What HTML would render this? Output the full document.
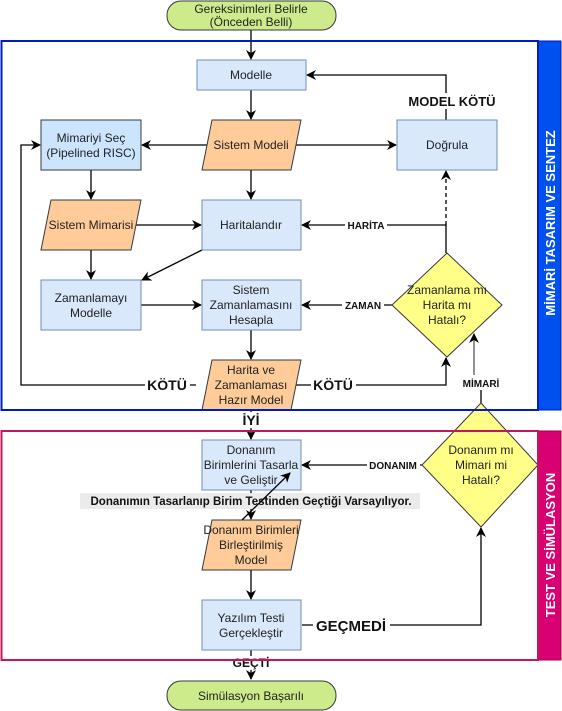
<!DOCTYPE html>
<html><head><meta charset="utf-8"><style>
html,body{margin:0;padding:0;background:#fff;}
svg{display:block;font-family:"Liberation Sans",Arial,sans-serif;}
.n{font-size:12px;fill:#222;text-anchor:middle;}
.b{font-weight:bold;fill:#111;text-anchor:middle;}
</style></head><body>
<svg width="562" height="711" viewBox="0 0 562 711" xmlns="http://www.w3.org/2000/svg">
<defs>
<marker id="a" markerWidth="10" markerHeight="10" refX="9" refY="5" orient="auto" markerUnits="userSpaceOnUse"><path d="M0,0 L10,5 L0,10 L3,5 z" fill="#000"/></marker>
<marker id="g" markerWidth="10" markerHeight="10" refX="9" refY="5" orient="auto" markerUnits="userSpaceOnUse"><path d="M0,0 L10,5 L0,10 L3,5 z" fill="#000"/></marker>
</defs>
<rect x="538" y="41" width="23" height="369" fill="#0050ef" stroke="#001dbc"/>
<rect x="538" y="431" width="23" height="229" fill="#d80073" stroke="#a50040"/>
<text transform="translate(555,223) rotate(-90)" font-size="13" font-weight="bold" fill="#fff" text-anchor="middle">MİMARİ TASARIM VE SENTEZ</text>
<text transform="translate(555,545) rotate(-90)" font-size="13" font-weight="bold" fill="#fff" text-anchor="middle">TEST VE SİMÜLASYON</text>

<g stroke="#000" stroke-width="1.3" fill="none">
<line x1="251" y1="30" x2="251" y2="59" marker-end="url(#a)"/>
<line x1="251" y1="90" x2="251" y2="119" marker-end="url(#a)"/>
<polyline points="446,120 446,75 307,75" marker-end="url(#a)"/>
<line x1="208" y1="145" x2="142" y2="145" marker-end="url(#a)"/>
<line x1="295" y1="145" x2="396" y2="145" marker-end="url(#a)"/>
<line x1="91" y1="170" x2="91" y2="199" marker-end="url(#a)"/>
<line x1="251" y1="170" x2="251" y2="199" marker-end="url(#a)"/>
<line x1="125" y1="225" x2="201" y2="225" marker-end="url(#a)"/>
<polyline points="446,253 446,225 302,225" marker-end="url(#a)"/>
<line x1="446" y1="225" x2="446" y2="171" stroke-dasharray="4,3" marker-end="url(#a)"/>
<line x1="91" y1="250" x2="91" y2="279" marker-end="url(#a)"/>
<line x1="202" y1="250" x2="142" y2="280" marker-end="url(#a)"/>
<line x1="141" y1="305" x2="201" y2="305" marker-end="url(#a)"/>
<line x1="392" y1="305" x2="302" y2="305" marker-end="url(#a)"/>
<line x1="251" y1="330" x2="251" y2="359" marker-end="url(#a)"/>
<polyline points="196,385 21,385 21,145 40,145" marker-end="url(#a)"/>
<polyline points="290,385 446,385 446,358" marker-end="url(#a)"/>
<line x1="481" y1="403" x2="481" y2="385"/>
<line x1="474" y1="375" x2="474" y2="334" stroke="#777" stroke-width="1.6" marker-end="url(#g)"/>
<line x1="251" y1="410" x2="251" y2="439" marker-end="url(#a)"/>
<line x1="422" y1="465" x2="302" y2="465" marker-end="url(#a)"/>
<line x1="251" y1="490" x2="251" y2="519" marker-end="url(#a)"/>
<line x1="251" y1="570" x2="251" y2="599" marker-end="url(#a)"/>
<polyline points="302,625 481,625 481,528" marker-end="url(#a)"/>
<line x1="251" y1="650" x2="251" y2="679" marker-end="url(#a)"/>
</g>

<rect x="167" y="1" width="169" height="29" rx="14" fill="#cdeb8b" stroke="#36393d"/>
<text class="n" x="251" y="13">Gereksinimleri Belirle</text>
<text class="n" x="251" y="26">(Önceden Belli)</text>
<rect x="167" y="681" width="169" height="29" rx="14" fill="#cdeb8b" stroke="#36393d"/>
<text class="n" x="251" y="700">Simülasyon Başarılı</text>

<g fill="#dae8fc" stroke="#6c8ebf">
<rect x="197" y="60" width="109" height="30"/>
<rect x="397" y="120" width="100" height="50"/>
<rect x="202" y="200" width="99" height="50"/>
<rect x="41" y="280" width="100" height="50"/>
<rect x="202" y="280" width="99" height="50"/>
<rect x="202" y="440" width="99" height="50"/>
<rect x="202" y="600" width="99" height="50"/>
</g>
<rect x="41" y="120" width="100" height="50" fill="#cce5ff" stroke="#36393d"/>
<g fill="#ffcc99" stroke="#36393d">
<polygon points="212,120 301,120 291,170 202,170"/>
<polygon points="51,200 141,200 131,250 41,250"/>
<polygon points="212,360 301,360 291,410 202,410"/>
<polygon points="212,520 301,520 291,570 202,570"/>
</g>
<g fill="#ffff88" stroke="#36393d">
<polygon points="447,253 502,305 447,357 392,305"/>
<polygon points="481,403 538,465 481,527 422,465"/>
</g>

<text class="n" x="251" y="79">Modelle</text>
<text class="n" x="91" y="142">Mimariyi Seç</text>
<text class="n" x="91" y="157">(Pipelined RISC)</text>
<text class="n" x="251" y="149">Sistem Modeli</text>
<text class="n" x="447" y="149">Doğrula</text>
<text class="n" x="91" y="229">Sistem Mimarisi</text>
<text class="n" x="251" y="229">Haritalandır</text>
<text class="n" x="91" y="302">Zamanlamayı</text>
<text class="n" x="91" y="317">Modelle</text>
<text class="n" x="251" y="294">Sistem</text>
<text class="n" x="251" y="309">Zamanlamasını</text>
<text class="n" x="251" y="324">Hesapla</text>
<text class="n" x="447" y="294">Zamanlama mı</text>
<text class="n" x="447" y="309">Harita mı</text>
<text class="n" x="447" y="324">Hatalı?</text>
<text class="n" x="251" y="374">Harita ve</text>
<text class="n" x="251" y="389">Zamanlaması</text>
<text class="n" x="251" y="404">Hazır Model</text>
<text class="n" x="251" y="454">Donanım</text>
<text class="n" x="251" y="469">Birimlerini Tasarla</text>
<text class="n" x="251" y="484">ve Geliştir</text>
<text class="n" x="481" y="454">Donanım mı</text>
<text class="n" x="481" y="469">Mimari mi</text>
<text class="n" x="481" y="484">Hatalı?</text>

<rect x="408" y="93" width="88" height="16" fill="#fff"/>
<text class="b" x="452" y="106" font-size="13">MODEL KÖTÜ</text>
<rect x="345" y="218" width="42" height="14" fill="#fff"/>
<text class="b" x="366" y="229" font-size="10">HARİTA</text>
<rect x="342" y="298" width="42" height="14" fill="#fff"/>
<text class="b" x="363" y="309" font-size="10">ZAMAN</text>
<rect x="145" y="377" width="45" height="16" fill="#fff"/>
<text class="b" x="167" y="390" font-size="14">KÖTÜ</text>
<rect x="311" y="377" width="45" height="16" fill="#fff"/>
<text class="b" x="333" y="390" font-size="14">KÖTÜ</text>
<rect x="460" y="376" width="42" height="14" fill="#fff"/>
<text class="b" x="481" y="387" font-size="10">MİMARİ</text>
<rect x="240" y="412" width="22" height="16" fill="#fff"/>
<text class="b" x="251" y="425" font-size="14">İYİ</text>
<rect x="367" y="458" width="53" height="14" fill="#fff"/>
<text class="b" x="393" y="469" font-size="10">DONANIM</text>
<rect x="80" y="493" width="340" height="16" fill="#ebebeb"/>
<text class="b" x="251" y="505" font-size="11.5">Donanımın Tasarlanıp Birim Testinden Geçtiği Varsayılıyor.</text>
<line x1="242" y1="520" x2="290" y2="473" stroke="#000" stroke-width="1.3" marker-end="url(#a)"/>
<text class="n" x="251" y="534">Donanım Birimleri</text>
<text class="n" x="251" y="549">Birleştirilmiş</text>
<text class="n" x="251" y="564">Model</text>
<text class="n" x="251" y="622">Yazılım Testi</text>
<text class="n" x="251" y="637">Gerçekleştir</text>
<rect x="313" y="617" width="77" height="17" fill="#fff"/>
<text class="b" x="351" y="631" font-size="15">GEÇMEDİ</text>
<rect x="231" y="656" width="40" height="14" fill="#fff"/>
<text class="b" x="251" y="667" font-size="12">GEÇTİ</text>

<rect x="1.5" y="41" width="536.5" height="369" fill="none" stroke="#001dbc" stroke-width="2"/>
<rect x="1.5" y="431" width="536.5" height="229" fill="none" stroke="#c2185b" stroke-width="2"/>
</svg>
</body></html>
